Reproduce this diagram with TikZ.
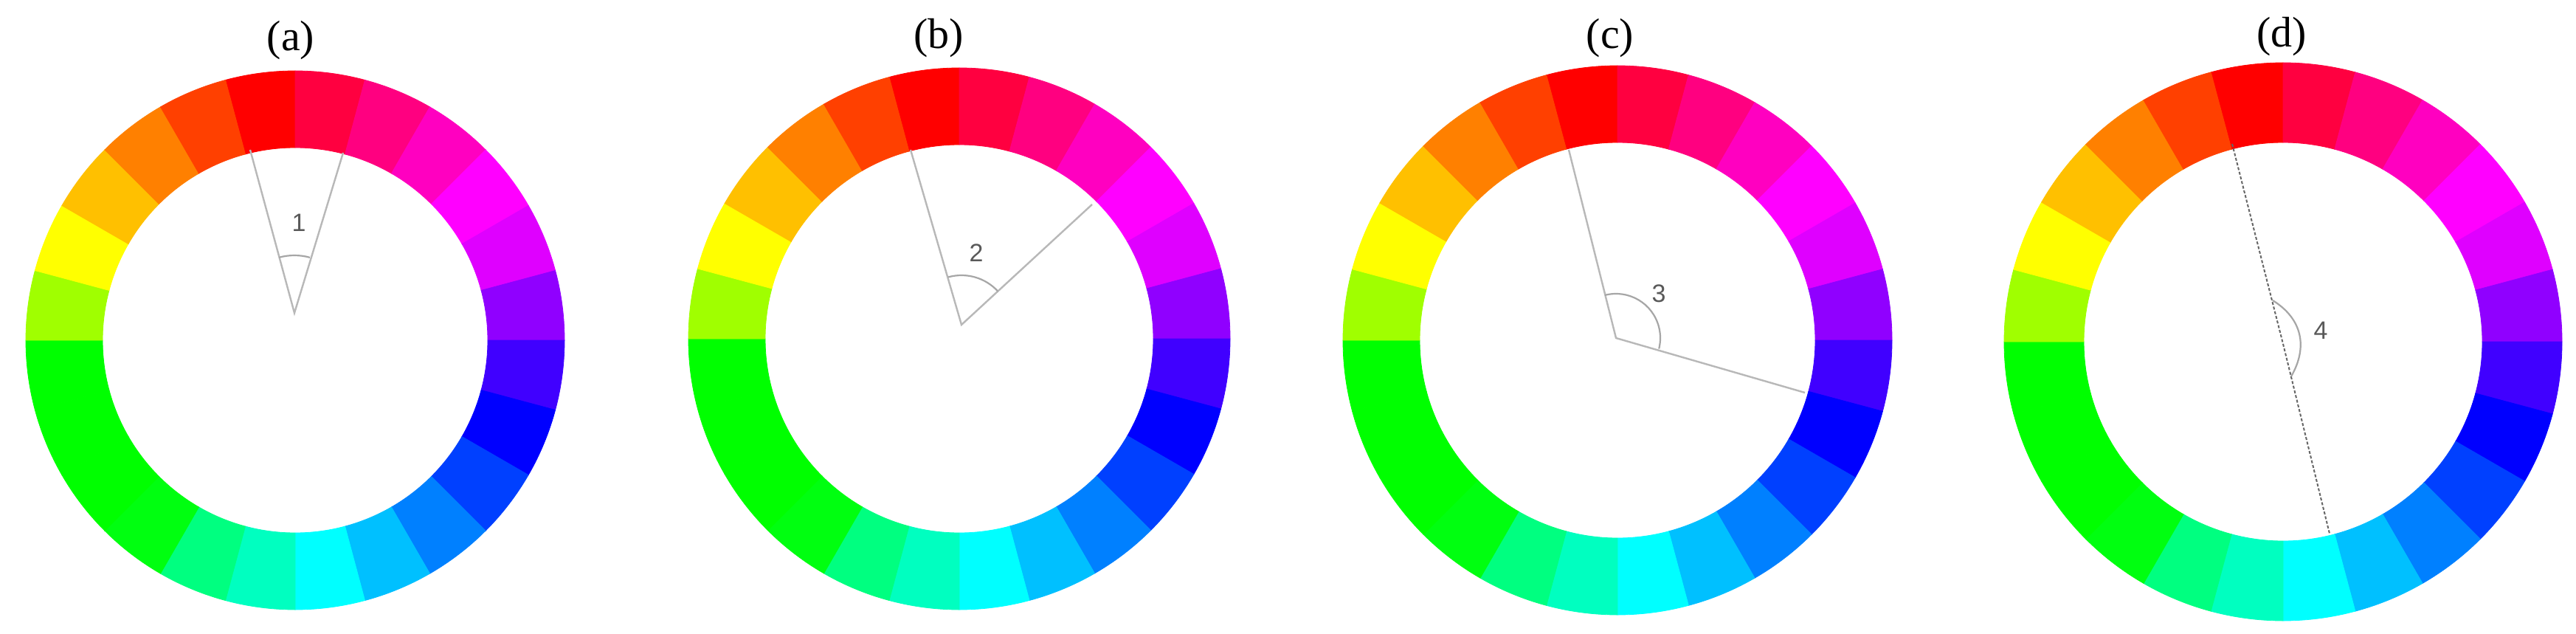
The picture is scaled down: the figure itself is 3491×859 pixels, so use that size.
\documentclass[tikz,border=0pt]{standalone}
\usepackage{fontspec}
\setmainfont{Liberation Serif}
\newfontfamily\numfont{Liberation Sans}
\usetikzlibrary{calc}
\newcommand\huewheel[4]{%
  \begin{scope}[shift={(#1,#2)}]
    \foreach \a/\col in {90/FF0000,75/FF0040,60/FF0080,45/FF00C0,30/FF00FF,15/DF00FF,0/9000FF,-15/4000FF,-30/0000FF,-45/0040FF,-60/0080FF,-75/00C0FF,-90/00FFFF,-105/00FFC0,-120/00FF80,-135/00FF10,-150/00FF00,-165/00FF00,-180/00FF00,165/A0FF00,150/FFFF00,135/FFC000,120/FF8000,105/FF4000}{
      \definecolor{segcol}{HTML}{\col}
      \pgfmathsetmacro\b{\a+15}
      \fill[segcol,draw=segcol,line width=0.8pt] (\a:#3pt) arc[start angle=\a,end angle=\b,radius=#3pt] -- (\b:#4pt) arc[start angle=\b,end angle=\a,radius=#4pt] -- cycle;
    }
  \end{scope}}
\tikzset{
  ray/.style={draw=black!28,line width=2.4pt},
  rayd/.style={draw=black!60,line width=2pt,dash pattern=on 4pt off 2.5pt},
  anglearc/.style={draw=black!35,line width=2.2pt},
  anglenum/.style={font=\numfont\fontsize{34}{36}\selectfont,text=black!65,inner sep=0pt},
  title/.style={font=\fontsize{58}{60}\selectfont,inner sep=0pt}
}
\begin{document}
\begin{tikzpicture}[x=1pt,y=1pt]
\useasboundingbox (0,0) rectangle (3491,-859);
\fill[white] (0,0) rectangle (3491,-859);
% wheels
\huewheel{400}{-461}{365}{261}
\huewheel{1300}{-459}{367}{263}
\huewheel{2192}{-461}{372}{268}
\huewheel{3094}{-463}{378}{270}
% titles
\node[title] (ta) at (394,-55) {(a)};
\node[title] (tb) at (1272,-52) {(b)};
\node[title] (tc) at (2182,-52) {(c)};
\node[title] (td) at (3092,-50) {(d)};
% (a)
\coordinate (av) at (399,-424);
\coordinate (a1) at (339,-203);
\coordinate (a2) at (465,-207);
\draw[ray] (a1) -- (av) -- (a2);
\draw[anglearc] ($(av)+(105.5:78pt)$) arc[start angle=105.5,end angle=74.5,radius=78pt];
\node[anglenum] (na) at (405,-302) {1};
% (b)
\coordinate (bv) at (1303,-440);
\coordinate (b1) at (1234,-203);
\coordinate (b2) at (1480,-277);
\draw[ray] (b1) -- (bv) -- (b2);
\draw[anglearc] ($(bv)+(105.5:67pt)$) arc[start angle=105.5,end angle=42.5,radius=67pt];
\node[anglenum] (nb) at (1323,-343) {2};
% (c)
\coordinate (cv) at (2190,-458);
\coordinate (c1) at (2126,-203);
\coordinate (c2) at (2446,-532);
\draw[ray] (c1) -- (cv) -- (c2);
\draw[anglearc] ($(cv)+(104.5:60pt)$) arc[start angle=104.5,end angle=-14,radius=60pt];
\node[anglenum] (nc) at (2248,-398) {3};
% (d)
\coordinate (dv) at (3094,-466);
\coordinate (d1) at (3025,-195);
\coordinate (d2) at (3157,-723);
\draw[rayd] (d1) -- (dv) -- (d2);
\coordinate (dA) at (3080,-407);
\coordinate (dB) at (3105,-510);
\draw[anglearc] (dA) .. controls (3120,-432) and (3128,-470) .. (dB);
\node[anglenum] (nd) at (3145,-448) {4};
\end{tikzpicture}
\end{document}
